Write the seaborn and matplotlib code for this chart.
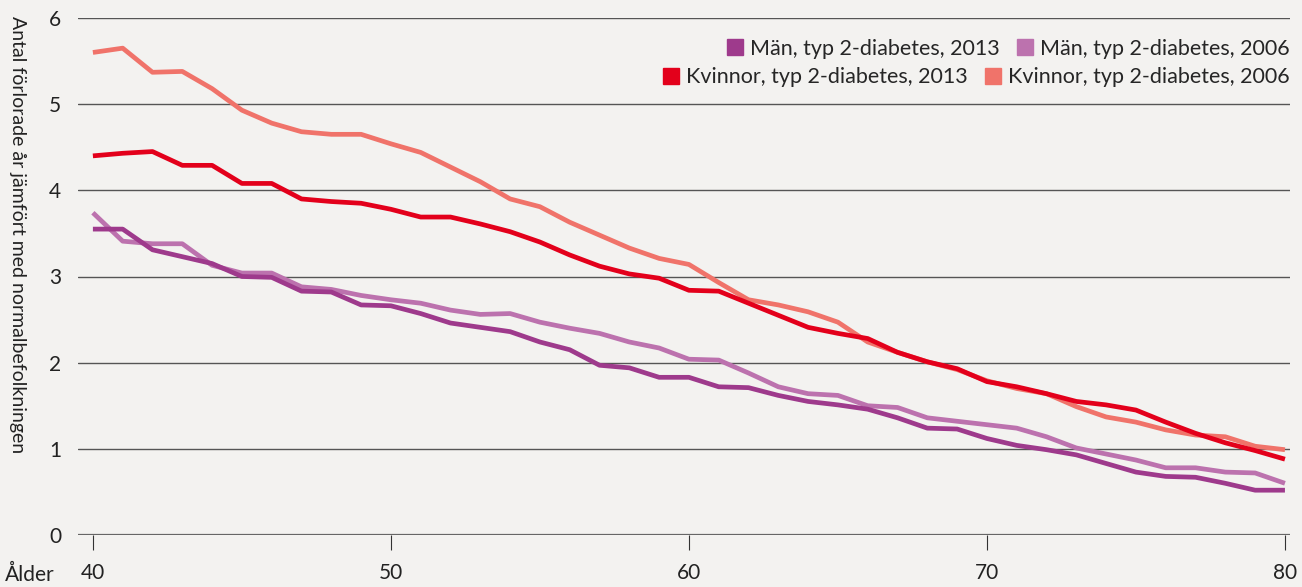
import numpy as np
import pandas as pd
import matplotlib
matplotlib.use("Agg")
import matplotlib.pyplot as plt
from matplotlib.lines import Line2D
import seaborn as sns

ages = list(range(40, 81))

man_2013 = [3.55, 3.55, 3.31, 3.23, 3.15, 3.00, 2.99, 2.83, 2.82, 2.67,
            2.66, 2.57, 2.46, 2.41, 2.36, 2.24, 2.15, 1.97, 1.94, 1.83,
            1.83, 1.72, 1.71, 1.62, 1.55, 1.51, 1.46, 1.36, 1.24, 1.23,
            1.12, 1.04, 0.99, 0.93, 0.83, 0.73, 0.68, 0.67, 0.60, 0.52, 0.52]
man_2006 = [3.74, 3.41, 3.38, 3.38, 3.13, 3.04, 3.04, 2.88, 2.85, 2.78,
            2.73, 2.69, 2.61, 2.56, 2.57, 2.47, 2.40, 2.34, 2.24, 2.17,
            2.04, 2.03, 1.88, 1.72, 1.64, 1.62, 1.50, 1.48, 1.36, 1.32,
            1.28, 1.24, 1.14, 1.01, 0.94, 0.87, 0.78, 0.78, 0.73, 0.72, 0.60]
kv_2013 = [4.40, 4.43, 4.45, 4.29, 4.29, 4.08, 4.08, 3.90, 3.87, 3.85,
           3.78, 3.69, 3.69, 3.61, 3.52, 3.40, 3.25, 3.12, 3.03, 2.98,
           2.84, 2.83, 2.69, 2.55, 2.41, 2.34, 2.28, 2.12, 2.01, 1.93,
           1.78, 1.72, 1.64, 1.55, 1.51, 1.45, 1.31, 1.18, 1.07, 0.98, 0.88]
kv_2006 = [5.60, 5.65, 5.37, 5.38, 5.18, 4.93, 4.78, 4.68, 4.65, 4.65,
           4.54, 4.44, 4.27, 4.10, 3.90, 3.81, 3.63, 3.48, 3.33, 3.21,
           3.14, 2.93, 2.73, 2.67, 2.59, 2.47, 2.24, 2.12, 2.01, 1.92,
           1.79, 1.70, 1.64, 1.49, 1.37, 1.31, 1.22, 1.16, 1.14, 1.03, 0.99]

labels = ["Män, typ 2-diabetes, 2013", "Män, typ 2-diabetes, 2006",
          "Kvinnor, typ 2-diabetes, 2013", "Kvinnor, typ 2-diabetes, 2006"]
colors = {labels[0]: "#9E3A8C", labels[1]: "#BC72AE",
          labels[2]: "#E3001B", labels[3]: "#F0736A"}
series = {labels[0]: man_2013, labels[1]: man_2006,
          labels[2]: kv_2013, labels[3]: kv_2006}

rows = []
for lab, vals in series.items():
    for a, v in zip(ages, vals):
        rows.append({"Ålder": a, "Värde": v, "Serie": lab})
df = pd.DataFrame(rows)

sns.set_theme(style="white")
plt.rcParams['font.family'] = ['Lato', 'DejaVu Sans']
bg = "#F3F2F0"

fig = plt.figure(figsize=(13.02, 5.87), dpi=100, facecolor=bg)
ax = fig.add_axes([78/1302, 52/587, (1290-78)/1302, (535-18)/587])
ax.set_facecolor(bg)

draw_order = [labels[3], labels[1], labels[2], labels[0]]
sns.lineplot(data=df, x="Ålder", y="Värde", hue="Serie", hue_order=draw_order,
             palette=colors, linewidth=3.4, ax=ax, legend=False,
             solid_capstyle="butt")

ax.set_xlim(39.5, 80.17)
ax.set_ylim(0, 6)
ax.set_yticks([0, 1, 2, 3, 4, 5, 6])
ax.set_xticks([40, 50, 60, 70, 80])
for y in [1, 2, 3, 4, 5, 6]:
    ax.axhline(y, color="#555555", lw=1.0, zorder=0)
ax.axhline(0, color="#666666", lw=1.6, zorder=0)
for s in ax.spines.values():
    s.set_visible(False)
ax.tick_params(axis="y", left=False, length=0, pad=12, labelsize=15, labelcolor="#222222")
ax.tick_params(axis="x", bottom=True, length=11, width=0.8, color="#333333",
               direction="out", pad=9, labelsize=15, labelcolor="#222222")
ax.set_xlabel("")
ax.set_ylabel("")
fig.text(5/1302, 1 - 575/587, "Ålder", fontsize=15, color="#222222",
         ha="left", va="center")
fig.text(17/1302, 1 - 16/587, "Antal förlorade år jämfört med normalbefolkningen",
         rotation=-90, fontsize=14, color="#222222", ha="center", va="top")

def handles(labs):
    return [Line2D([], [], marker="s", linestyle="none", markersize=12,
                   markerfacecolor=colors[l], markeredgecolor=colors[l]) for l in labs]

leg1 = ax.legend(handles(labels[:2]), labels[:2], ncol=2, loc="upper right",
                 bbox_to_anchor=(1.0, 0.96), frameon=False, fontsize=15.5,
                 handlelength=0.8, handletextpad=0.3, columnspacing=0.8,
                 borderaxespad=0, borderpad=0)
ax.add_artist(leg1)
leg2 = ax.legend(handles(labels[2:]), labels[2:], ncol=2, loc="upper right",
                 bbox_to_anchor=(1.0, 0.905), frameon=False, fontsize=15.5,
                 handlelength=0.8, handletextpad=0.3, columnspacing=0.8,
                 borderaxespad=0, borderpad=0)

fig.savefig("out.png", dpi=100, facecolor=bg)
